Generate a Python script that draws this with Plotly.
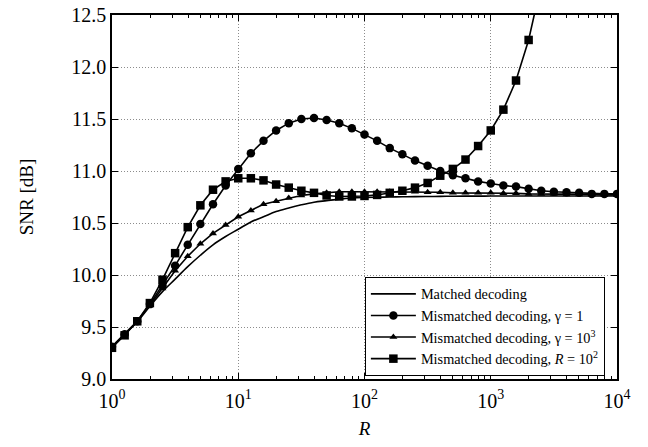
import numpy as np
import plotly.graph_objects as go

# R sampled every 0.1 decade from 10^0 to 10^4
log_R = [i / 10 for i in range(41)]
R = [10 ** v for v in log_R]

snr_matched = [9.31, 9.43, 9.55, 9.70, 9.84, 9.96, 10.08, 10.19, 10.29, 10.37,
               10.44, 10.51, 10.56, 10.61, 10.645, 10.675, 10.70, 10.715, 10.73, 10.74,
               10.745, 10.748, 10.75, 10.752, 10.754, 10.755, 10.756, 10.757, 10.758, 10.758,
               10.759, 10.759, 10.76, 10.76, 10.76, 10.76, 10.76, 10.76, 10.76, 10.76, 10.76]

snr_gamma1 = [9.31, 9.43, 9.555, 9.72, 9.90, 10.09, 10.29, 10.49, 10.68, 10.86,
              11.02, 11.17, 11.29, 11.39, 11.46, 11.50, 11.51, 11.49, 11.46, 11.41,
              11.35, 11.29, 11.22, 11.16, 11.10, 11.05, 11.00, 10.96, 10.93, 10.90,
              10.88, 10.86, 10.85, 10.83, 10.81, 10.80, 10.795, 10.79, 10.78, 10.78, 10.78]

snr_gamma1e3 = [9.31, 9.43, 9.555, 9.71, 9.87, 10.04, 10.18, 10.30, 10.40, 10.48,
                10.56, 10.62, 10.68, 10.71, 10.74, 10.765, 10.78, 10.79, 10.80, 10.80,
                10.80, 10.80, 10.80, 10.80, 10.80, 10.795, 10.795, 10.79, 10.79, 10.79,
                10.79, 10.785, 10.785, 10.78, 10.78, 10.78, 10.775, 10.775, 10.775, 10.77, 10.77]

# R = 10^2 curve (leaves the top of the axis after 10^3.3)
snr_R100 = [9.30, 9.42, 9.555, 9.73, 9.955, 10.21, 10.46, 10.67, 10.82, 10.90,
            10.93, 10.93, 10.91, 10.87, 10.84, 10.81, 10.79, 10.765, 10.755, 10.755,
            10.76, 10.77, 10.79, 10.81, 10.84, 10.885, 10.955, 11.02, 11.11, 11.24,
            11.39, 11.59, 11.87, 12.26, 12.80]
R_R100 = R[:len(snr_R100)]

x_tickvals = [1, 10, 100, 1000, 10000]
x_ticktext = ["10<sup>0</sup>", "10<sup>1</sup>", "10<sup>2</sup>", "10<sup>3</sup>", "10<sup>4</sup>"]
y_tickvals = [9.0, 9.5, 10.0, 10.5, 11.0, 11.5, 12.0, 12.5]
y_ticktext = ["9.0", "9.5", "10.0", "10.5", "11.0", "11.5", "12.0", "12.5"]

names = ["Matched decoding",
         "Mismatched decoding, γ = 1",
         "Mismatched decoding, γ = 10<sup>3</sup>",
         "Mismatched decoding, <i>R</i> = 10<sup>2</sup>"]

FONT = "Liberation Serif, Times New Roman, serif"
line = dict(color="black", width=1.6)

fig = go.Figure()
fig.add_trace(go.Scatter(x=R, y=snr_matched, mode="lines", name=names[0],
                         line=dict(color="black", width=1.6, shape="spline")))
fig.add_trace(go.Scatter(x=R, y=snr_gamma1, mode="lines+markers", name=names[1],
                         line=line, marker=dict(symbol="circle", size=8.5, color="black")))
fig.add_trace(go.Scatter(x=R, y=snr_gamma1e3, mode="lines+markers", name=names[2],
                         line=line, marker=dict(symbol="triangle-up", size=7, color="black")))
fig.add_trace(go.Scatter(x=R_R100, y=snr_R100, mode="lines+markers", name=names[3],
                         line=line, marker=dict(symbol="square", size=8.5, color="black")))

minor_vals = [m * 10 ** d for d in range(4) for m in range(2, 10)]

grid = dict(showgrid=True, gridcolor="#8c8c8c", griddash="1px,2px", gridwidth=1)

fig.update_layout(
    width=648, height=447,
    margin=dict(l=112, r=31, t=15, b=68),
    paper_bgcolor="white", plot_bgcolor="white",
    font=dict(family=FONT, size=15, color="black"),
    showlegend=True,
    legend=dict(x=0.976, y=0.008, xanchor="right", yanchor="bottom",
                bgcolor="white", bordercolor="black", borderwidth=1,
                font=dict(family=FONT, size=14.3), tracegroupgap=0,
                itemwidth=45),
    xaxis=dict(type="log", range=[0, 4], tickmode="array", tickvals=x_tickvals,
               ticktext=x_ticktext, ticks="inside", ticklen=6, tickcolor="black",
               showline=True, linecolor="black", linewidth=1.5, mirror="ticks",
               zeroline=False, ticklabelstandoff=3, ticklabeloverflow="allow",
               automargin=False, **grid,
               minor=dict(tickmode="array", tickvals=minor_vals, ticks="inside",
                          ticklen=3, tickcolor="black", showgrid=False),
               title=dict(text="<i>R</i>", font=dict(family=FONT, size=19), standoff=11),
               tickfont=dict(family=FONT, size=20)),
    yaxis=dict(range=[9.0, 12.5], tickmode="array", tickvals=y_tickvals,
               ticktext=y_ticktext, ticks="inside", ticklen=6, tickcolor="black",
               showline=True, linecolor="black", linewidth=1.5, mirror="ticks",
               zeroline=False, ticklabeloverflow="allow", automargin=False, **grid,
               title=dict(text="SNR [dB]", font=dict(family=FONT, size=19), standoff=33),
               tickfont=dict(family=FONT, size=20)),
)

fig.write_html("out.html", config={"displayModeBar": False},
               post_script="document.body.style.margin='0px';")
